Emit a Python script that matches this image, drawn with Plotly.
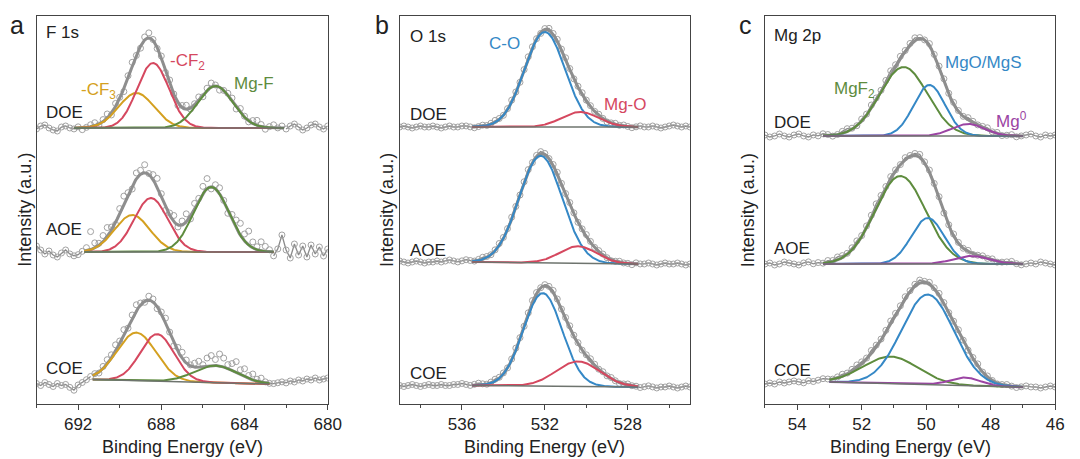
import numpy as np
import plotly.graph_objects as go

W, H = 1080, 459
FONT = "Arial, Liberation Sans, sans-serif"

# ---------------- DATA ----------------
samples = ["DOE", "AOE", "COE"]

# ---- Panel a: F 1s ----
F1s_range = [694, 680]
F1s_step = 0.2
F1s_components = ["-CF3", "-CF2", "Mg-F"]
F1s_fit_region = [[692.2, 682.1], [691.7, 682.6], [691.3, 682.8]]
F1s_baseline = [[276, 276], [152, 152], [24.5, 20]]
F1s_center = [[689.2, 688.4, 685.4], [689.4, 688.5, 685.6], [689.2, 688.2, 685.4]]
F1s_height = [[35, 65, 42], [37, 54, 65], [48, 47, 17]]
F1s_fwhm = [[2.0, 1.8, 2.0], [2.0, 1.9, 2.0], [2.2, 1.9, 2.4]]
F1s_res_DOE = [-1, 2, 3, 0, -2, -3, 1, 2, 0, -1,
               1, -2, 0, 2, 3, -1, 2, 4, -2, 3,
               1, -3, 2, 4, 0, -2, 3, 5, 1, -1,
               2, -2, 3, 0, -3, 2, 4, -1, 1, 3,
               -2, 2, 4, 1, -3, 0, 2, 3, -2, 4,
               1, -1, 3, 5, 2, -2, 1, 3, 0, 2,
               -1, 2, 4, 1, -2, 0, 3, 4, 1, -1,
               2]
F1s_res_AOE = [6, 2, -2, 1, -3, -5, -1, 2, -2, -4,
               -3, 0, 3, 18, 5, 2, 6, 9, 3, -2,
               5, 8, 2, -3, 6, 4, 8, 1, 5, 9,
               3, -4, 2, 6, -2, 4, 8, -3, 5, 2,
               7, 10, -2, 4, 6, 1, -3, 5, 8, 12,
               7, 14, 6, 3, 9, 5, 2, -4, 3, 17,
               2, -6, 8, -3, 6, -5, 7, -2, 5, -4,
               3]
F1s_res_COE = [-4, -6, -3, -5, -7, -4, -6, -5, -8, -11,
               -6, -4, -2, 0, 1, -1, 2, 4, 3, 6,
               2, 5, -2, 3, 6, 2, -1, 4, 3, -2,
               2, 5, 1, -3, 4, 6, 3, 1, 4, 6,
               2, 8, 10, 6, 12, 9, 4, 7, 11, 5,
               8, 3, 6, 2, 4, 1, 0, 0, 1, 2,
               1, 3, 2, 4, 3, 5, 4, 6, 4, 5,
               6]

# ---- Panel b: O 1s ----
O1s_range = [539, 525]
O1s_step = 0.2
O1s_components = ["C-O", "Mg-O"]
O1s_fit_region = [[535.5, 527.5], [535.5, 527.5], [535.5, 527.5]]
O1s_baseline = [[277, 277], [142, 140], [18.5, 17]]
O1s_center = [[532.0, 530.3], [532.2, 530.4], [532.1, 530.4]]
O1s_height = [[95, 15], [107, 17], [93, 25]]
O1s_fwhm = [[2.3, 2.1], [2.45, 2.1], [2.2, 2.5]]
O1s_res_DOE = [0, 1, 0, -1, 0, 1, 0, 0, 1, 0,
               -1, 0, 1, 0, 0, 1, 1, 0, -1, 0,
               1, 0, 1, 2, 1, 0, 1, 2, 1, 0,
               1, 2, 1, 0, -1, 1, 2, 1, 2, 1,
               2, 1, 0, 1, 2, 1, 1, 0, 1, 0,
               -1, 0, 1, 0, 1, 0, -1, 0, 1, 0,
               0, 1, 0, -1, 0, 1, 2, 1, 0, 1,
               0]
O1s_res_AOE = [1, 0, -1, 0, 1, 0, -1, 0, 0, 1,
               0, 1, 2, 1, 0, 1, 2, 1, 0, 1,
               2, 1, 0, 1, 2, 1, 1, 2, 1, 0,
               1, 2, 0, 1, 2, 1, 0, 1, 2, 1,
               1, 2, 1, 0, 1, 2, 1, 0, 1, 1,
               0, -1, 0, 1, 0, 0, -1, 1, 0, 0,
               1, 0, -1, 0, 1, 0, 0, 1, 0, -1,
               0]
O1s_res_COE = [0, -1, 0, 1, 0, -1, 0, 1, 0, 0,
               1, 0, 0, 1, 1, 2, 1, 0, 1, 2,
               1, 0, 1, 2, 1, 1, 0, 1, 2, 1,
               0, 1, 2, 1, 0, 1, 1, 2, 1, 0,
               1, 2, 1, 1, 0, 1, 2, 1, 0, 1,
               0, 1, 0, -1, 0, 1, 0, 0, -1, 0,
               1, 0, -1, 0, 0, 1, 0, -1, 0, 1,
               0]

# ---- Panel c: Mg 2p ----
Mg2p_range = [55, 46]
Mg2p_step = 0.15
Mg2p_components = ["MgF2", "MgO/MgS", "Mg0"]
Mg2p_fit_region = [[53.2, 47.0], [53.2, 47.0], [53.0, 47.0]]
Mg2p_baseline = [[268, 268], [140, 140], [22, 17]]
Mg2p_center = [[50.7, 49.9, 48.7], [50.8, 49.95, 48.6], [51.1, 49.95, 48.8]]
Mg2p_height = [[69, 51, 12], [88, 46, 8], [27, 90, 8]]
Mg2p_fwhm = [[1.75, 1.15, 1.2], [1.85, 1.2, 1.3], [2.0, 1.9, 1.1]]
Mg2p_res_DOE = [1, -1, 0, 2, 0, -1, 1, 2, 0, -1,
                1, 0, 2, 1, -1, 0, 2, 3, 1, 0,
                2, 1, 3, 2, 1, 2, 3, 1, 2, 1,
                2, 3, 1, 0, 2, 1, 2, 3, 1, 2,
                1, 0, 2, 1, 0, 1, 2, 0, 1, -1,
                0, 1, -1, 0, 1, 2, 0, -1, 1, 0,
                1]
Mg2p_res_AOE = [0, 1, -1, 0, 2, 1, 0, -1, 1, 2,
                0, 1, 0, 2, 1, 3, 2, 1, 2, 3,
                1, 2, 3, 4, 2, 1, 2, 1, 0, 2,
                1, 2, 3, 1, 2, 1, 2, 0, 1, 2,
                1, 0, 1, -1, 0, 1, 0, 1, -1, 0,
                1, 2, 0, -1, 0, 1, 0, 2, 1, 0,
                -1]
Mg2p_res_COE = [-2, -1, -2, 0, -1, 0, 1, 0, -1, 1,
                0, 1, 2, 1, 0, 1, 2, 1, 2, 3,
                2, 1, 3, 2, 1, 2, 3, 2, 1, 2,
                1, 2, 3, 1, 2, 1, 2, 1, 0, 1,
                2, 1, 0, 1, 2, 0, 1, 0, -1, 0,
                1, 0, -1, 0, 1, 0, 0, -1, 0, 1,
                0]

# ---------------- STYLE / LAYOUT ----------------
C_RED = "#D5485F"
C_ORANGE = "#D4A020"
C_GREEN = "#5E8C3E"
C_BLUE = "#3588C6"
C_PURPLE = "#9B44A3"
C_ENV = "#8E8E8E"
C_DATA = "#A2A2A2"
C_BASE = "#6E746E"
AX = "#444444"

plot_top, plot_bot = 16, 404
panels = [
    dict(px=(37, 332), rng=F1s_range, step=F1s_step, region=F1s_fit_region,
         base=F1s_baseline, cen=F1s_center, hgt=F1s_height, fw=F1s_fwhm,
         res=[F1s_res_DOE, F1s_res_AOE, F1s_res_COE],
         colors=[C_ORANGE, C_RED, C_GREEN], dtick=4, tick0=680, minor=2, full_line=False),
    dict(px=(405, 699), rng=O1s_range, step=O1s_step, region=O1s_fit_region,
         base=O1s_baseline, cen=O1s_center, hgt=O1s_height, fw=O1s_fwhm,
         res=[O1s_res_DOE, O1s_res_AOE, O1s_res_COE],
         colors=[C_BLUE, C_RED], dtick=4, tick0=528, minor=2, full_line=True),
    dict(px=(775, 1069), rng=Mg2p_range, step=Mg2p_step, region=Mg2p_fit_region,
         base=Mg2p_baseline, cen=Mg2p_center, hgt=Mg2p_height, fw=Mg2p_fwhm,
         res=[Mg2p_res_DOE, Mg2p_res_AOE, Mg2p_res_COE],
         colors=[C_GREEN, C_BLUE, C_PURPLE], dtick=2, tick0=46, minor=1, full_line=True),
]


def gauss(x, c, h, fw):
    return h * np.exp(-4 * np.log(2) * (x - c) ** 2 / fw ** 2)


def baseline(x, reg, b):
    hi, lo = reg
    t = np.clip((hi - x) / (hi - lo), 0, 1)
    return b[0] + (b[1] - b[0]) * t


fig = go.Figure()
layout = dict(width=W, height=H, margin=dict(l=0, r=0, t=0, b=0),
              paper_bgcolor="white", plot_bgcolor="white", showlegend=False,
              font=dict(family=FONT, color="#222222"))

for k, p in enumerate(panels):
    sfx = "" if k == 0 else str(k + 1)
    xa, ya = "x" + sfx, "y" + sfx
    for s in range(3):
        res = np.array(p["res"][s], dtype=float)
        n = len(res)
        E = p["rng"][0] - p["step"] * np.arange(n)
        reg = p["region"][s]
        b = p["base"][s]
        cen, hgt, fw = p["cen"][s], p["hgt"][s], p["fw"][s]
        model = baseline(E, reg, b) + sum(gauss(E, c, h, f) for c, h, f in zip(cen, hgt, fw))
        data = model + res
        if p["full_line"]:
            yl = data
        else:
            inside = (E < reg[0] - 0.05) & (E > reg[1] + 0.05)
            yl = np.where(inside, np.nan, data)
        fig.add_trace(go.Scatter(x=E, y=yl, xaxis=xa, yaxis=ya, mode="lines",
                                 line=dict(color="#8A8A8A", width=1.3), connectgaps=False,
                                 hoverinfo="skip"))
        fig.add_trace(go.Scatter(x=E, y=data, xaxis=xa, yaxis=ya, mode="markers",
                                 marker=dict(symbol="circle-open", size=6, color=C_DATA,
                                             line=dict(width=1, color=C_DATA)),
                                 hoverinfo="skip"))
        xf = np.linspace(reg[0], reg[1], 400)
        bf = baseline(xf, reg, b)
        comps = [gauss(xf, c, h, f) for c, h, f in zip(cen, hgt, fw)]
        fig.add_trace(go.Scatter(x=xf, y=bf + sum(comps), xaxis=xa, yaxis=ya, mode="lines",
                                 line=dict(color=C_ENV, width=3), hoverinfo="skip"))
        for comp, col in zip(comps, p["colors"]):
            fig.add_trace(go.Scatter(x=xf, y=bf + comp, xaxis=xa, yaxis=ya, mode="lines",
                                     line=dict(color=col, width=2), hoverinfo="skip"))
        fig.add_trace(go.Scatter(x=xf, y=bf, xaxis=xa, yaxis=ya, mode="lines",
                                 line=dict(color=C_BASE, width=1.5), hoverinfo="skip"))

    x0, x1 = p["px"]
    layout["xaxis" + sfx] = dict(
        domain=[x0 / W, x1 / W], range=p["rng"], anchor=ya,
        showline=True, mirror=True, linecolor=AX, linewidth=1,
        ticks="outside", ticklen=5, tickwidth=1, tickcolor=AX,
        tick0=p["tick0"], dtick=p["dtick"],
        minor=dict(dtick=p["minor"], tick0=p["tick0"], ticks="outside", ticklen=3,
                   tickwidth=1, tickcolor=AX),
        showgrid=False, zeroline=False,
        tickfont=dict(size=17, family=FONT, color="#222222"))
    layout["yaxis" + sfx] = dict(
        domain=[1 - plot_bot / H, 1 - plot_top / H], range=[0, plot_bot - plot_top], anchor=xa,
        showline=True, mirror=True, linecolor=AX, linewidth=1,
        ticks="", showticklabels=False, showgrid=False, zeroline=False)

fig.update_layout(**layout)


def px(x, y):
    return x / W, 1 - y / H


def note(text, x, y, size=17, color="#222222", xanchor="left", angle=0):
    xp, yp = px(x, y)
    fig.add_annotation(x=xp, y=yp, xref="paper", yref="paper", text=text, showarrow=False,
                       xanchor=xanchor, yanchor="middle", textangle=angle,
                       font=dict(size=size, family=FONT, color=color))


note("a", 17, 25, size=25, xanchor="center")
note("b", 387, 25, size=25, xanchor="center")
note("c", 755, 25, size=25, xanchor="center")
note("F 1s", 45, 33)
note("O 1s", 413, 37)
note("Mg 2p", 782, 35)
note("-CF<sub>3</sub>", 80, 91, color=C_ORANGE)
note("-CF<sub>2</sub>", 170, 62, color=C_RED)
note("Mg-F", 235, 83, color=C_GREEN)
note("C-O", 493, 43, color=C_BLUE)
note("Mg-O", 610, 105, color=C_RED)
note("MgF<sub>2</sub>", 843, 90, color=C_GREEN)
note("MgO/MgS", 955, 63, color=C_BLUE)
note("Mg<sup>0</sup>", 1007, 120, color=C_PURPLE)
for lx, ys in [(45, (113, 230, 368)), (413, (115, 250, 373)), (782, (122, 249, 370))]:
    for name, yy in zip(samples, ys):
        note(name, lx, yy)
for cx in (184.5, 552, 922):
    note("Binding Energy (eV)", cx, 447, size=18, xanchor="center")
for cx in (25, 392, 758):
    note("Intensity (a.u.)", cx, 210, size=18, xanchor="center", angle=-90)

fig.write_html("out.html", config={"displayModeBar": False},
               post_script="document.body.style.margin='0';document.body.style.overflow='hidden';")
